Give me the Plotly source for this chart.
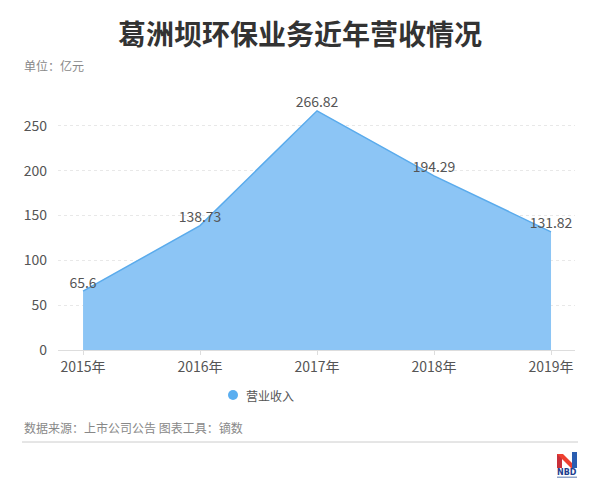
import plotly.graph_objects as go

years = ["2015年", "2016年", "2017年", "2018年", "2019年"]
revenue = [65.6, 138.73, 266.82, 194.29, 131.82]
labels = ["65.6", "138.73", "266.82", "194.29", "131.82"]
y_ticks = [0, 50, 100, 150, 200, 250]

FONT = "Noto Sans CJK SC"

L, T, W, H = 58, 99, 517, 251


def px(x):
    return (x - L) / W


def py(y):
    return (T + H - y) / H


fig = go.Figure()
fig.add_trace(go.Scatter(
    x=list(range(len(years))), y=revenue,
    mode="lines+text", name="营业收入",
    text=labels, textposition="top center",
    textfont=dict(family=FONT, size=14, color="#555555"),
    line=dict(color="#5aabec", width=1.5),
    fill="tozeroy", fillcolor="#8cc5f5",
    cliponaxis=False, showlegend=False, hoverinfo="skip",
))

fig.update_layout(
    width=600, height=500,
    paper_bgcolor="white", plot_bgcolor="white",
    margin=dict(l=L, r=600 - L - W, t=T, b=500 - T - H, autoexpand=False),
    font=dict(family=FONT, color="#555555"),
    title=dict(text="<b>葛洲坝环保业务近年营收情况</b>", x=0.5, xanchor="center",
               y=1 - 35 / 500, yanchor="middle",
               font=dict(family=FONT, size=28, color="#333333")),
    showlegend=False,
    xaxis=dict(
        range=[-0.214, 4.205],
        tickmode="array", tickvals=list(range(len(years))), ticktext=years,
        showgrid=False, zeroline=False,
        showline=True, linecolor="#dddddd", linewidth=1,
        ticks="outside", ticklen=4, tickcolor="#dddddd",
        tickfont=dict(family=FONT, size=14, color="#555555"),
        fixedrange=True,
    ),
    yaxis=dict(
        range=[0, 280],
        tickmode="array", tickvals=y_ticks,
        showgrid=True, gridcolor="#e8e8e8", griddash="dot", gridwidth=1,
        zeroline=False, showline=False, ticks="", ticklabelstandoff=10,
        tickfont=dict(family=FONT, size=14, color="#555555"),
        fixedrange=True,
    ),
)

# manual legend
fig.add_shape(type="circle", xref="paper", yref="paper",
              x0=px(228), x1=px(238), y0=py(400), y1=py(390),
              fillcolor="#5aaef0", line=dict(width=0))
fig.add_annotation(text="营业收入", xref="paper", yref="paper",
                   x=px(244), xanchor="left", y=py(395), yanchor="middle",
                   showarrow=False, font=dict(family=FONT, size=12, color="#555555"))

fig.add_annotation(text="单位：亿元", xref="paper", yref="paper",
                   x=px(22), xanchor="left", y=py(66), yanchor="middle", showarrow=False,
                   font=dict(family=FONT, size=12, color="#888888"))
fig.add_annotation(text="数据来源：上市公司公告 图表工具：镝数", xref="paper", yref="paper",
                   x=px(22), xanchor="left", y=py(427), yanchor="middle", showarrow=False,
                   font=dict(family=FONT, size=12, color="#888888"))
# separator line
fig.add_shape(type="line", xref="paper", yref="paper",
              x0=px(22), x1=px(578), y0=py(442), y1=py(442),
              line=dict(color="#cccccc", width=1))

# NBD logo
fig.add_shape(type="rect", xref="paper", yref="paper",
              x0=px(557), x1=px(562), y0=py(468), y1=py(454),
              fillcolor="#c8303a", line=dict(width=0))
fig.add_shape(type="path", xref="paper", yref="paper",
              path=f"M {px(557)},{py(454)} L {px(563)},{py(454)} L {px(577)},{py(468)} L {px(571)},{py(468)} Z",
              fillcolor="#ee4030", line=dict(width=0))
fig.add_shape(type="rect", xref="paper", yref="paper",
              x0=px(572), x1=px(577), y0=py(468), y1=py(452),
              fillcolor="#2a5db0", line=dict(width=0))
fig.add_annotation(text="<b>NBD</b>", xref="paper", yref="paper",
                   x=px(567), xanchor="center", y=py(472.5), yanchor="middle",
                   showarrow=False, font=dict(family="DejaVu Sans", size=8, color="#1f3f8f"))
fig.add_shape(type="rect", xref="paper", yref="paper",
              x0=px(557), x1=px(577), y0=py(478), y1=py(476.5),
              fillcolor="#8fa3c8", line=dict(width=0))

fig.write_html("out.html", config={"displayModeBar": False, "staticPlot": True},
               post_script="document.body.style.margin='0';document.body.style.padding='0';")
